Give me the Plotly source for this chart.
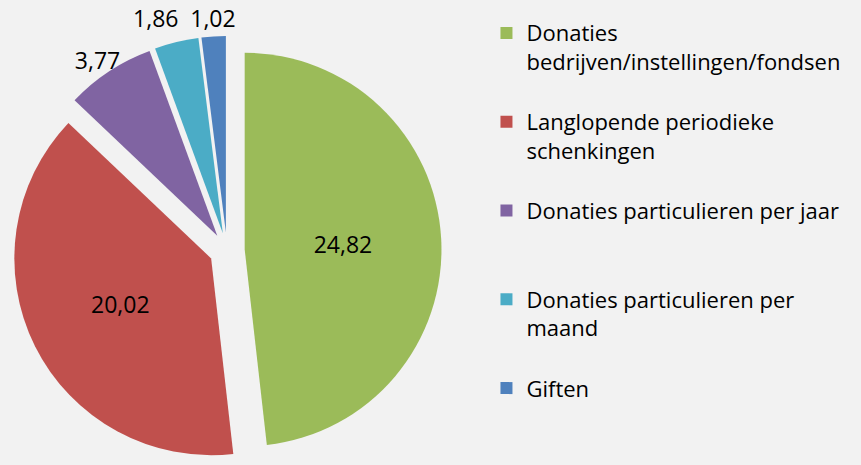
import plotly.graph_objects as go

labels = [
    "Donaties<br>bedrijven/instellingen/fondsen<br>&nbsp;",
    "Langlopende periodieke<br>schenkingen<br>&nbsp;",
    "Donaties particulieren per jaar<br>&nbsp;<br>&nbsp;",
    "Donaties particulieren per<br>maand<br>&nbsp;",
    "Giften",
]
values = [24.82, 20.02, 3.77, 1.86, 1.02]
colors = ["#9BBB59", "#C0504D", "#8064A2", "#4BACC6", "#4F81BD"]

W, H = 861, 465
FONT = "'Open Sans', sans-serif"
PULL = 0.09


def dom(x0, x1, top, bottom):
    """pixel box -> paper domain"""
    return dict(x=[x0 / W, x1 / W], y=[(H - bottom) / H, (H - top) / H])


fig = go.Figure()

# visible pie with the two inside value labels
fig.add_trace(go.Pie(
    labels=labels,
    values=values,
    sort=False,
    direction="clockwise",
    rotation=0,
    pull=[PULL] * len(values),
    marker=dict(colors=colors, line=dict(width=0)),
    texttemplate="%{value:.2f}",
    textposition=["inside", "inside", "none", "none", "none"],
    insidetextorientation="horizontal",
    textfont=dict(family=FONT, size=23, color="#000000"),
    domain=dom(12.5, 441.5, 36, 465),
    hoverinfo="label+value",
))

# transparent copies of the pie that each carry one outside value label,
# so plotly does not stack the small labels on top of each other
overlays = [
    (2, dom(31.5, 460.5, 36, 465)),
    (3, dom(22.5, 451.5, 27, 456)),
    (4, dom(42.5, 471.5, 34, 463)),
]
for idx, d in overlays:
    pos = ["none"] * len(values)
    pos[idx] = "outside"
    fig.add_trace(go.Pie(
        labels=labels,
        values=values,
        sort=False,
        direction="clockwise",
        rotation=0,
        pull=[PULL] * len(values),
        marker=dict(colors=["rgba(0,0,0,0)"] * len(values), line=dict(width=0)),
        texttemplate="%{value:.2f}",
        textposition=pos,
        textfont=dict(family=FONT, size=23, color="#000000"),
        domain=d,
        showlegend=False,
        hoverinfo="skip",
    ))

fig.update_layout(
    width=W, height=H,
    margin=dict(l=0, r=0, t=0, b=0, pad=0, autoexpand=False),
    paper_bgcolor="#F2F2F2",
    plot_bgcolor="#F2F2F2",
    separators=",.",
    font=dict(family=FONT, size=22, color="#000000"),
    legend=dict(
        x=0.565, y=0.974, xanchor="left", yanchor="top",
        valign="top",
        font=dict(family=FONT, size=22, color="#000000"),
        bgcolor="rgba(0,0,0,0)",
    ),
)

fig.write_html(
    "out.html",
    config={"displayModeBar": False},
    post_script="document.body.style.margin='0';document.body.style.background='#F2F2F2';",
)
